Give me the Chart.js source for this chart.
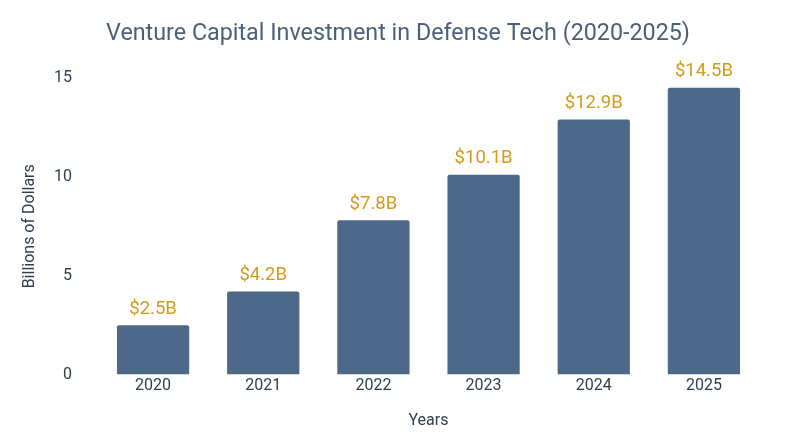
<!DOCTYPE html>
<html>
<head>
<meta charset="utf-8">
<script src="https://cdn.jsdelivr.net/npm/chart.js@4"></script>
<style>
  html, body { margin: 0; padding: 0; background: #fff; }
  #wrap { width: 800px; height: 447px; }
</style>
</head>
<body>
<div id="wrap"><canvas id="vcChart"></canvas></div>
<script>
const years = ['2020', '2021', '2022', '2023', '2024', '2025'];
const investment = [2.5, 4.2, 7.8, 10.1, 12.9, 14.5];
const yTicks = [0, 5, 10, 15];

// draws the "$x.xB" labels above each bar
const valueLabels = {
    id: 'valueLabels',
    afterDatasetsDraw(chart) {
        const ctx = chart.ctx;
        const meta = chart.getDatasetMeta(0);
        ctx.save();
        ctx.fillStyle = '#d49a1c';
        ctx.font = '18.5px Roboto';
        ctx.textAlign = 'center';
        ctx.textBaseline = 'bottom';
        meta.data.forEach(function(bar, i) {
            ctx.fillText('$' + investment[i].toFixed(1) + 'B', bar.x, bar.y - 7);
        });
        ctx.restore();
    }
};

const ctx = document.getElementById('vcChart').getContext('2d');
new Chart(ctx, {
    type: 'bar',
    data: {
        labels: years,
        datasets: [{
            data: investment,
            backgroundColor: '#4d6989',
            borderRadius: 2,
            borderSkipped: 'bottom',
            barPercentage: 0.8,
            categoryPercentage: 0.82
        }]
    },
    options: {
        responsive: true,
        maintainAspectRatio: false,
        animation: false,
        layout: { padding: { left: 20, right: 24, top: 8, bottom: 12 } },
        plugins: {
            legend: { display: false },
            tooltip: { enabled: false },
            title: {
                display: true,
                text: 'Venture Capital Investment in Defense Tech (2020-2025)',
                color: '#4a5f7a',
                font: { family: 'Roboto', size: 23.3, weight: 'normal' },
                padding: { top: 12, bottom: 30 }
            }
        },
        scales: {
            y: {
                min: 0,
                max: 15,
                afterBuildTicks(axis) {
                    axis.ticks = yTicks.map(v => ({ value: v }));
                },
                afterFit(axis) { axis.width = 78; },
                grid: { display: false, drawTicks: false },
                border: { display: false },
                ticks: {
                    color: '#2c3e50',
                    font: { family: 'Roboto', size: 16 },
                    padding: 26
                },
                title: {
                    display: true,
                    text: 'Billions of Dollars',
                    color: '#2c3e50',
                    font: { family: 'Roboto', size: 16 },
                    padding: 0
                }
            },
            // empty spacer on the right so the title stays centred on the page
            yRight: {
                position: 'right',
                display: true,
                afterFit(axis) { axis.width = 17; },
                grid: { display: false, drawTicks: false },
                border: { display: false },
                ticks: { display: false }
            },
            x: {
                grid: { display: false, drawTicks: false },
                border: { display: false },
                ticks: {
                    color: '#2c3e50',
                    font: { family: 'Roboto', size: 16 },
                    padding: 2
                },
                title: {
                    display: true,
                    text: 'Years',
                    color: '#2c3e50',
                    font: { family: 'Roboto', size: 16 },
                    padding: { top: 14 }
                }
            }
        }
    },
    plugins: [valueLabels]
});
</script>
</body>
</html>
